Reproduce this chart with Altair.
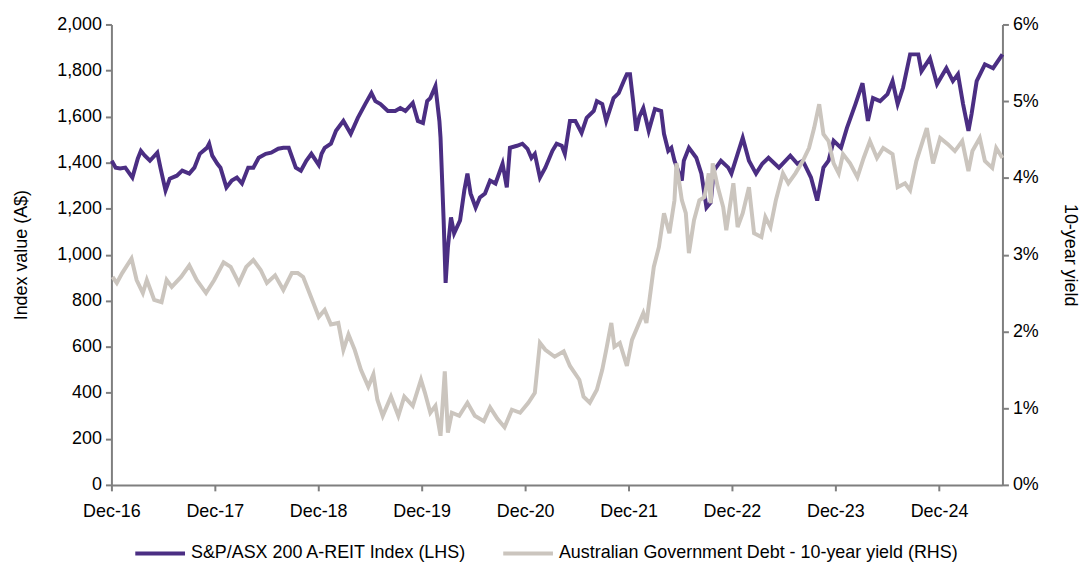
import altair as alt
import pandas as pd

REIT_NAME = "S&P/ASX 200 A-REIT Index (LHS)"
YIELD_NAME = "Australian Government Debt - 10-year yield (RHS)"

# Decimal-year positions and index values (A$)
reit_t = [2016.92, 2016.96, 2017.00, 2017.05, 2017.12, 2017.17, 2017.20, 2017.24, 2017.29, 2017.36,
          2017.39, 2017.44, 2017.48, 2017.55, 2017.60, 2017.67, 2017.72, 2017.77, 2017.84, 2017.86,
          2017.89, 2017.94, 2017.97, 2018.03, 2018.08, 2018.13, 2018.18, 2018.24, 2018.29, 2018.34,
          2018.41, 2018.46, 2018.53, 2018.58, 2018.63, 2018.70, 2018.75, 2018.80, 2018.85, 2018.92,
          2018.95, 2018.98, 2019.04, 2019.09, 2019.16, 2019.23, 2019.30, 2019.37, 2019.43, 2019.47,
          2019.52, 2019.59, 2019.66, 2019.71, 2019.76, 2019.83, 2019.88, 2019.93, 2019.97, 2020.00,
          2020.05, 2020.09, 2020.10, 2020.13, 2020.15, 2020.17, 2020.20, 2020.23, 2020.29, 2020.33,
          2020.36, 2020.39, 2020.44, 2020.48, 2020.53, 2020.58, 2020.63, 2020.70, 2020.74, 2020.77,
          2020.84, 2020.89, 2020.94, 2020.98, 2021.01, 2021.06, 2021.11, 2021.18, 2021.22, 2021.27,
          2021.30, 2021.35, 2021.40, 2021.46, 2021.51, 2021.58, 2021.61, 2021.66, 2021.70, 2021.77,
          2021.82, 2021.87, 2021.90, 2021.93, 2021.96, 2021.99, 2022.02, 2022.06, 2022.11, 2022.17,
          2022.23, 2022.26, 2022.30, 2022.33, 2022.36, 2022.43, 2022.45, 2022.50, 2022.57, 2022.62,
          2022.67, 2022.71, 2022.74, 2022.81, 2022.88, 2022.91, 2022.97, 2023.02, 2023.08, 2023.15,
          2023.21, 2023.27, 2023.37, 2023.48, 2023.55, 2023.60, 2023.68, 2023.74, 2023.80, 2023.85,
          2023.90, 2023.97, 2024.03, 2024.11, 2024.18, 2024.23, 2024.28, 2024.35, 2024.42, 2024.47,
          2024.52, 2024.57, 2024.64, 2024.72, 2024.75, 2024.83, 2024.90, 2024.99, 2025.05, 2025.10,
          2025.15, 2025.20, 2025.23, 2025.28, 2025.36, 2025.44, 2025.53]
reit_v = [1408, 1378, 1374, 1378, 1335, 1417, 1451, 1430, 1408, 1443,
          1378, 1279, 1330, 1343, 1365, 1352, 1378, 1438, 1464, 1482,
          1430, 1395, 1378, 1292, 1322, 1335, 1309, 1378, 1378, 1421,
          1438, 1443, 1460, 1464, 1464, 1378, 1365, 1408, 1438, 1390,
          1438, 1464, 1482, 1538, 1581, 1525, 1594, 1654, 1702, 1667,
          1654, 1624, 1624, 1637, 1624, 1659, 1581, 1572, 1667, 1680,
          1732, 1581, 1508, 1149, 877, 1032, 1162, 1093, 1149, 1279,
          1352, 1266, 1205, 1248, 1266, 1322, 1309, 1395, 1292, 1464,
          1473, 1482, 1460, 1420, 1438, 1335, 1378, 1451, 1482, 1473,
          1438, 1581, 1581, 1529, 1594, 1624, 1667, 1654, 1581, 1680,
          1702, 1754, 1784, 1784, 1667, 1538, 1600, 1637, 1538, 1633,
          1624, 1525, 1451, 1464, 1408, 1322, 1408, 1464, 1421, 1352,
          1205, 1227, 1365, 1408, 1378, 1352, 1438, 1508, 1408, 1352,
          1395, 1421, 1378, 1430, 1395, 1408, 1335, 1235, 1378, 1408,
          1495, 1464, 1551, 1654, 1745, 1581, 1680, 1667, 1697, 1754,
          1654, 1725, 1870, 1870, 1797, 1853, 1741, 1810, 1754, 1784,
          1654, 1538, 1611, 1754, 1827, 1810, 1870]

# Decimal-year positions and 10-year yield (%)
yld_t = [2016.93, 2016.97, 2017.02, 2017.11, 2017.16, 2017.22, 2017.26, 2017.33, 2017.40, 2017.45,
         2017.50, 2017.59, 2017.67, 2017.74, 2017.83, 2017.91, 2018.00, 2018.07, 2018.15, 2018.22,
         2018.29, 2018.36, 2018.42, 2018.50, 2018.58, 2018.66, 2018.72, 2018.77, 2018.82, 2018.87,
         2018.92, 2018.98, 2019.04, 2019.11, 2019.16, 2019.21, 2019.27, 2019.33, 2019.40, 2019.45,
         2019.49, 2019.54, 2019.62, 2019.69, 2019.75, 2019.83, 2019.91, 2019.95, 2020.00, 2020.05,
         2020.10, 2020.14, 2020.17, 2020.21, 2020.28, 2020.36, 2020.43, 2020.52, 2020.58, 2020.65,
         2020.72, 2020.79, 2020.87, 2020.95, 2021.01, 2021.06, 2021.11, 2021.20, 2021.29, 2021.35,
         2021.44, 2021.48, 2021.54, 2021.61, 2021.66, 2021.70, 2021.75, 2021.78, 2021.83, 2021.90,
         2021.95, 2021.99, 2022.06, 2022.09, 2022.16, 2022.21, 2022.26, 2022.31, 2022.36, 2022.38,
         2022.43, 2022.47, 2022.50, 2022.55, 2022.60, 2022.65, 2022.69, 2022.71, 2022.73, 2022.78,
         2022.83, 2022.86, 2022.93, 2022.97, 2023.02, 2023.08, 2023.13, 2023.20, 2023.24, 2023.29,
         2023.34, 2023.41, 2023.46, 2023.53, 2023.60, 2023.66, 2023.71, 2023.76, 2023.80, 2023.85,
         2023.90, 2023.95, 2023.99, 2024.06, 2024.13, 2024.19, 2024.25, 2024.32, 2024.38, 2024.47,
         2024.52, 2024.59, 2024.64, 2024.70, 2024.80, 2024.86, 2024.93, 2025.00, 2025.07, 2025.14,
         2025.20, 2025.24, 2025.31, 2025.36, 2025.43, 2025.47, 2025.53]
yld_v = [2.71, 2.63, 2.76, 2.95, 2.67, 2.50, 2.67, 2.41, 2.38, 2.67,
         2.58, 2.71, 2.86, 2.67, 2.50, 2.67, 2.90, 2.84, 2.63, 2.84,
         2.93, 2.80, 2.63, 2.73, 2.54, 2.76, 2.76, 2.71, 2.54, 2.37,
         2.19, 2.28, 2.09, 2.11, 1.76, 1.96, 1.76, 1.50, 1.28, 1.44,
         1.11, 0.90, 1.15, 0.90, 1.15, 1.03, 1.37, 1.20, 0.94, 1.03,
         0.64, 1.48, 0.68, 0.94, 0.90, 1.07, 0.90, 0.83, 1.01, 0.86,
         0.75, 0.98, 0.94, 1.07, 1.20, 1.85, 1.76, 1.67, 1.74, 1.55,
         1.37, 1.15, 1.07, 1.24, 1.50, 1.76, 2.11, 1.80, 1.85, 1.55,
         1.89, 2.02, 2.24, 2.11, 2.84, 3.10, 3.54, 3.28, 3.71, 4.19,
         3.71, 3.54, 3.02, 3.45, 3.71, 3.75, 4.06, 3.67, 4.19, 3.88,
         3.62, 3.32, 3.93, 3.36, 3.54, 3.88, 3.28, 3.23, 3.49, 3.36,
         3.71, 4.06, 3.93, 4.06, 4.22, 4.39, 4.65, 4.96, 4.57, 4.48,
         4.19, 4.06, 4.31, 4.19, 4.01, 4.26, 4.48, 4.26, 4.39, 4.31,
         3.88, 3.93, 3.84, 4.22, 4.65, 4.19, 4.52, 4.44, 4.35, 4.48,
         4.09, 4.35, 4.52, 4.22, 4.13, 4.39, 4.26]

left_ticks = [0, 200, 400, 600, 800, 1000, 1200, 1400, 1600, 1800, 2000]
right_ticks = [0, 1, 2, 3, 4, 5, 6]
tick_years = [2016, 2017, 2018, 2019, 2020, 2021, 2022, 2023, 2024]


def to_iso(y):
    yr = int(y)
    ts = pd.Timestamp(year=yr, month=1, day=1) + pd.Timedelta(days=(y - yr) * 365.25)
    return ts.strftime("%Y-%m-%d")


reit_df = pd.DataFrame({"date": [to_iso(t) for t in reit_t], "value": reit_v, "series": REIT_NAME})
yld_df = pd.DataFrame({"date": [to_iso(t) for t in yld_t], "value": yld_v, "series": YIELD_NAME})

FONT = "Liberation Sans"
AXIS_GREY = "#7f7f7f"
PURPLE = "#4b2e83"
GREY = "#cbc5be"

color = alt.Color(
    "series:N",
    scale=alt.Scale(domain=[REIT_NAME, YIELD_NAME], range=[PURPLE, GREY]),
    legend=alt.Legend(
        title=None, orient="none", direction="horizontal",
        legendX=22, legendY=505,
        symbolType="stroke", symbolSize=2500, symbolStrokeWidth=4,
        labelFontSize=18, labelFont=FONT, labelColor="#000000", labelLimit=700,
        columnPadding=28, labelOffset=4,
    ),
)

x_enc = alt.X(
    "date:T",
    scale=alt.Scale(
        type="utc",
        domain=[alt.DateTime(year=2016, month=12, date=1, utc=True),
                alt.DateTime(year=2025, month=7, date=13, utc=True)],
        nice=False,
    ),
    axis=alt.Axis(
        title=None,
        values=[alt.DateTime(year=y, month=12, date=1, utc=True) for y in tick_years],
        labelExpr="utcFormat(datum.value, '%b-%y')",
        grid=False, domainColor=AXIS_GREY, tickColor=AXIS_GREY, domainWidth=2, tickWidth=2,
        tickSize=6, labelFontSize=18, labelFont=FONT, labelColor="#000000", labelPadding=12,
        labelFlush=False,
    ),
)

reit_line = alt.Chart(reit_df).mark_line(strokeWidth=4).encode(
    x=x_enc,
    y=alt.Y(
        "value:Q",
        scale=alt.Scale(domain=[0, 2000], nice=False),
        axis=alt.Axis(
            title="Index value (A$)", values=left_ticks, format=",.0f", orient="left",
            grid=False, domainColor=AXIS_GREY, tickColor=AXIS_GREY, domainWidth=2, tickWidth=2,
            tickSize=6, labelFontSize=18, labelFont=FONT, labelColor="#000000", labelPadding=4,
            titleFontSize=18, titleFont=FONT, titleFontWeight="normal", titleColor="#000000",
            titlePadding=26,
        ),
    ),
    color=color,
)

yld_line = alt.Chart(yld_df).mark_line(strokeWidth=4).encode(
    x=x_enc,
    y=alt.Y(
        "value:Q",
        scale=alt.Scale(domain=[0, 6], nice=False),
        axis=alt.Axis(
            title="10-year yield", values=right_ticks, labelExpr="datum.value + '%'", orient="right",
            grid=False, domainColor=AXIS_GREY, tickColor=AXIS_GREY, domainWidth=2, tickWidth=2,
            tickSize=6, labelFontSize=18, labelFont=FONT, labelColor="#000000", labelPadding=4,
            titleFontSize=18, titleFont=FONT, titleFontWeight="normal", titleColor="#000000",
            titlePadding=22,
        ),
    ),
    color=color,
)

chart = (
    alt.layer(reit_line, yld_line)
    .resolve_scale(y="independent")
    .properties(
        width=896, height=463,
        autosize=alt.AutoSizeParams(type="none"),
        padding={"left": 104, "top": 15, "right": 80, "bottom": 76},
    )
    .configure_view(stroke=None)
)

chart.save("out.html", embed_options={"renderer": "svg", "actions": False})
